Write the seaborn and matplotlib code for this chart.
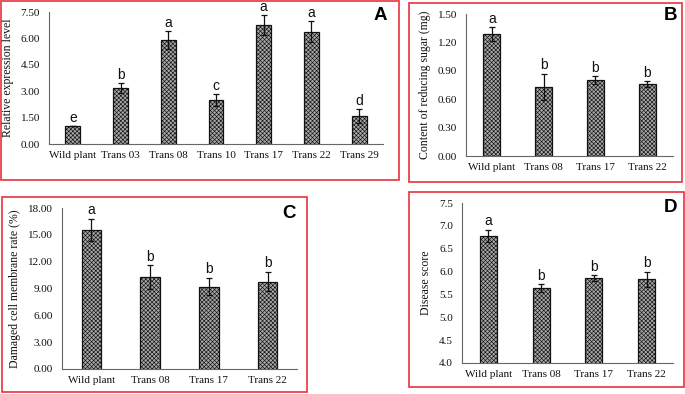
import numpy as np
import pandas as pd
import matplotlib
matplotlib.use("Agg")
import matplotlib.pyplot as plt
import seaborn as sns
from matplotlib.patches import Rectangle

sns.set_theme(style="white")
plt.rcParams['hatch.color'] = '#5a5a5a'
plt.rcParams['hatch.linewidth'] = 0.45

# ---- data ----
a_cats = ["Wild plant", "Trans 03", "Trans 08", "Trans 10", "Trans 17", "Trans 22", "Trans 29"]
a_vals = [1.02, 3.16, 5.92, 2.50, 6.76, 6.38, 1.57]
a_errs = [0.0, 0.28, 0.50, 0.33, 0.55, 0.60, 0.40]
a_lets = ["e", "b", "a", "c", "a", "a", "d"]
a_ticks = [0.0, 1.5, 3.0, 4.5, 6.0, 7.5]

b_cats = ["Wild plant", "Trans 08", "Trans 17", "Trans 22"]
b_vals = [1.29, 0.73, 0.80, 0.76]
b_errs = [0.07, 0.14, 0.04, 0.03]
b_lets = ["a", "b", "b", "b"]
b_ticks = [0.0, 0.3, 0.6, 0.9, 1.2, 1.5]

c_cats = ["Wild plant", "Trans 08", "Trans 17", "Trans 22"]
c_vals = [15.55, 10.3, 9.22, 9.78]
c_errs = [1.25, 1.30, 1.00, 1.10]
c_lets = ["a", "b", "b", "b"]
c_ticks = [0.0, 3.0, 6.0, 9.0, 12.0, 15.0, 18.0]

d_cats = ["Wild plant", "Trans 08", "Trans 17", "Trans 22"]
d_vals = [6.78, 5.64, 5.86, 5.83]
d_errs = [0.13, 0.08, 0.06, 0.17]
d_lets = ["a", "b", "b", "b"]
d_ticks = [4.0, 4.5, 5.0, 5.5, 6.0, 6.5, 7.0, 7.5]

W, H = 685, 394
fig = plt.figure(figsize=(W / 100, H / 100), dpi=100)
fig.patch.set_facecolor("white")

SERIF = "Liberation Serif"
SANS = "Liberation Sans"


def px_axes(l, t, r, b):
    return fig.add_axes([l / W, 1 - b / H, (r - l) / W, (b - t) / H])


def frame(l, t, r, b):
    fig.patches.append(Rectangle((l / W, 1 - b / H), (r - l) / W, (b - t) / H,
                                 transform=fig.transFigure, fill=False,
                                 edgecolor="#e8323c", linewidth=1.2))


def panel(rect, cats, vals, errs, lets, ticks, ylabel, fmt, width):
    ax = px_axes(*rect)
    df = pd.DataFrame({"cat": cats, "val": vals})
    sns.barplot(data=df, x="cat", y="val", ax=ax, color="#8a8a8a",
                width=width, errorbar=None, saturation=1)
    for p in ax.patches:
        p.set_hatch("xxxxxxxx")
        p.set_edgecolor("#111111")
        p.set_linewidth(0.9)
        p.set_facecolor("#a8a8a8")
    x = np.arange(len(cats))
    ax.errorbar(x, vals, yerr=errs, fmt="none", ecolor="#111111",
                elinewidth=0.9, capsize=2.2, capthick=0.9)
    rng = ticks[-1] - ticks[0]
    for xi, v, e, s in zip(x, vals, errs, lets):
        ax.text(xi, v + e + rng * 0.01, s, ha="center", va="bottom",
                fontsize=10, family=SANS, color="#111111")
    ax.set_xlim(-0.5, len(cats) - 0.5)
    ax.set_ylim(ticks[0], ticks[-1])
    ax.set_yticks(ticks)
    ax.set_yticklabels([fmt.format(t) for t in ticks], family=SERIF, fontsize=8)
    ax.set_xticks(x)
    ax.set_xticklabels(cats, family=SERIF, fontsize=8)
    ax.set_xticks(np.arange(len(cats) + 1) - 0.5, minor=True)
    ax.tick_params(axis="x", which="major", length=0, pad=5, colors="#111111")
    ax.tick_params(axis="x", which="minor", length=3, direction="out",
                   width=0.8, color="#666666")
    ax.tick_params(axis="y", length=3, direction="inout", width=0.8,
                   color="#666666", pad=5, labelcolor="#111111")
    ax.set_xlabel("")
    ax.set_ylabel(ylabel, family=SERIF, fontsize=8.5, color="#111111", labelpad=5)
    for side in ["top", "right"]:
        ax.spines[side].set_visible(False)
    for side in ["left", "bottom"]:
        ax.spines[side].set_color("#666666")
        ax.spines[side].set_linewidth(0.8)
    ax.set_facecolor("white")
    ax.grid(False)
    return ax


frame(1, 1, 399, 180)
frame(409, 3, 682, 182)
frame(2, 197, 307, 392)
frame(409, 192, 684, 387)

panel((49, 12, 383, 144), a_cats, a_vals, a_errs, a_lets, a_ticks,
      "Relative expression level", "{:.2f}", 0.31)
panel((466, 14, 673, 156), b_cats, b_vals, b_errs, b_lets, b_ticks,
      "Content of reducing sugar (mg)", "{:.2f}", 0.33)
panel((62, 208, 297, 369), c_cats, c_vals, c_errs, c_lets, c_ticks,
      "Damaged cell membrane rate (%)", "{:.2f}", 0.33)
panel((462, 203, 673, 363), d_cats, d_vals, d_errs, d_lets, d_ticks,
      "Disease score", "{:.1f}", 0.32)

for s, (xp, yp) in zip(["A", "B", "C", "D"],
                       [(387, 16), (677, 16), (296, 213), (677, 207)]):
    fig.text(xp / W, 1 - yp / H, s, ha="right", va="center", fontsize=13.5,
             fontweight="bold", family=SANS, color="black")

fig.savefig("out.png", dpi=100, facecolor="white")
